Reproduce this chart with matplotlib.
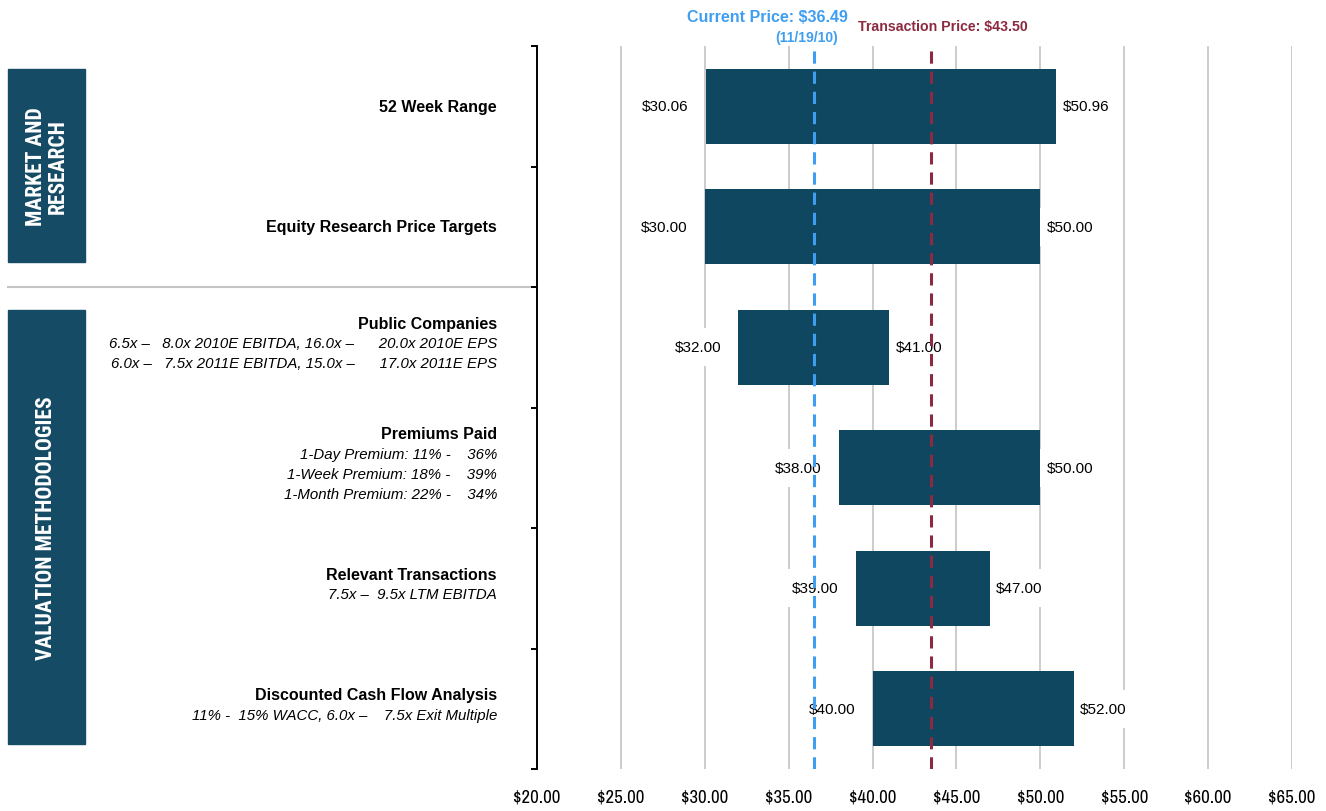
import matplotlib
matplotlib.use("Agg")
import matplotlib.pyplot as plt
from matplotlib.lines import Line2D
from matplotlib.patches import Rectangle

plt.rcParams["font.family"] = ["Liberation Sans", "DejaVu Sans"]
NARROW = ["Archivo Narrow", "Liberation Sans", "DejaVu Sans"]
COND = ["Roboto Condensed", "Liberation Sans", "DejaVu Sans"]

# ---------------- data ----------------
categories = ["52 Week Range", "Equity Research Price Targets", "Public Companies",
              "Premiums Paid", "Relevant Transactions", "Discounted Cash Flow Analysis"]
lows = [30.06, 30.00, 32.00, 38.00, 39.00, 40.00]
highs = [50.96, 50.00, 41.00, 50.00, 47.00, 52.00]
subtitles = [
    [],
    [],
    ["6.5x –   8.0x 2010E EBITDA, 16.0x –      20.0x 2010E EPS",
     "6.0x –   7.5x 2011E EBITDA, 15.0x –      17.0x 2011E EPS"],
    ["1-Day Premium: 11% -    36%",
     "1-Week Premium: 18% -    39%",
     "1-Month Premium: 22% -    34%"],
    ["7.5x –  9.5x LTM EBITDA"],
    ["11% -  15% WACC, 6.0x –    7.5x Exit Multiple"],
]
sections = ["MARKET AND\nRESEARCH", "VALUATION METHODOLOGIES"]
current_price = 36.49
current_date = "(11/19/10)"
transaction_price = 43.50
xticks = [20, 25, 30, 35, 40, 45, 50, 55, 60, 65]
xticklabels = ["$%.2f" % v for v in xticks]

BAR = "#0f4761"
BOX = "#154b64"
BLUE = "#3f9ef0"
RED = "#8b2a40"
GRID = "#c4c4c4"

W, H = 1326, 812
fig = plt.figure(figsize=(W / 100, H / 100), dpi=100)
def fx(px): return px / W
def fy(py): return 1 - py / H

ax = fig.add_axes([fx(537), fy(770), fx(1292) - fx(537), (770 - 47) / H])
n = len(categories)
ax.set_xlim(xticks[0], xticks[-1])
ax.set_ylim(n - 0.5, -0.5)

ypos = list(range(n))
ax.barh(ypos, [h - l for l, h in zip(lows, highs)], left=lows, height=0.62,
        color=BAR, zorder=3)

for xv in xticks[1:]:
    ax.axvline(xv, color=GRID, lw=1.2, zorder=1)

# value labels (white boxes break the gridlines, bars drawn above)
for y, l, h in zip(ypos, lows, highs):
    bb = dict(boxstyle="square,pad=0.8", fc="white", ec="none")
    ax.annotate("$%.2f" % l, (l, y), xytext=(-12.5, 0), textcoords="offset points",
                ha="right", va="center", fontsize=11, color="black", zorder=2, bbox=bb)
    ax.annotate("$%.2f" % h, (h, y), xytext=(4.5, 0), textcoords="offset points",
                ha="left", va="center", fontsize=11, color="black", zorder=2, bbox=bb)

# reference lines
ax.axvline(current_price, color=BLUE, lw=2.2, ls=(0, (4, 2.6)), zorder=5)
ax.axvline(transaction_price, color=RED, lw=2.2, ls=(0, (4, 2.6)), zorder=5)

# spines / ticks
for s in ["top", "right", "bottom"]:
    ax.spines[s].set_visible(False)
ax.spines["left"].set_color("black")
ax.spines["left"].set_linewidth(1.4)
ax.set_yticks([i - 0.5 for i in range(n + 1)])
ax.set_yticklabels([])
ax.tick_params(axis="y", length=4, width=1.4, color="black", direction="out")
ax.set_xticks(xticks)
ax.set_xticklabels(xticklabels, fontfamily=NARROW, fontsize=13.5)
ax.tick_params(axis="x", length=0, pad=14)

# category labels
trans = ax.get_yaxis_transform()
xlab = (497 - 537) / (1292 - 537)
for y, cat, subs in zip(ypos, categories, subtitles):
    lines = [(cat, True)] + [(s, False) for s in subs]
    k = len(lines)
    shift = -4 if k > 1 else 0
    for i, (txt, bold) in enumerate(lines):
        off_px = (i - (k - 1) / 2) * 20 + shift
        ax.annotate(txt, (xlab, y), xycoords=trans, xytext=(0, -off_px * 0.72),
                    textcoords="offset points", ha="right", va="center",
                    fontsize=11.5 if bold else 10.8,
                    fontweight="bold" if bold else "normal",
                    fontstyle="normal" if bold else "italic",
                    annotation_clip=False)

# section boxes
boxes = [(8, 70, 85, 263), (8, 311, 85, 745)]
for (x0, y0, x1, y1), label in zip(boxes, sections):
    fig.patches.append(Rectangle((fx(x0), fy(y1)), fx(x1) - fx(x0), (y1 - y0) / H,
                                 transform=fig.transFigure, color=BOX, zorder=1))
    fig.text(fx((x0 + x1) / 2), fy((y0 + y1) / 2), label, rotation=90,
             ha="center", va="center", color="white", fontsize=15.5,
             fontfamily=COND, fontweight="bold", linespacing=1.0,
             multialignment="center")

# separator
fig.add_artist(Line2D([fx(8), fx(1290)], [fy(288), fy(288)], color=GRID, lw=1.5,
                      transform=fig.transFigure, zorder=0))

# header labels
fig.text(fx(767), fy(17), "Current Price: $%.2f" % current_price, color=BLUE,
         fontsize=11.5, fontweight="bold", ha="center", va="center")
fig.text(fx(807), fy(38), current_date, color=BLUE, fontsize=10, fontweight="bold",
         ha="center", va="center")
fig.text(fx(943), fy(27), "Transaction Price: $%.2f" % transaction_price, color=RED,
         fontsize=10.2, fontweight="bold", ha="center", va="center")

fig.savefig("out.png", dpi=100, facecolor="white")
